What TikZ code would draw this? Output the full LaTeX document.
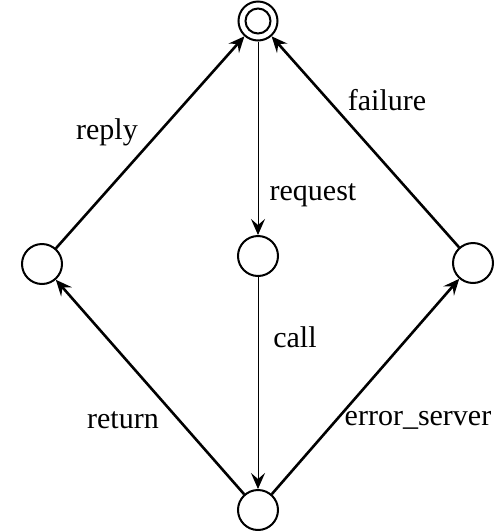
\documentclass[tikz,border=0pt]{standalone}
\usepackage{fontspec}
\setmainfont{Liberation Serif}
\usetikzlibrary{arrows.meta}
\tikzset{
  px/.style={x=0.5pt,y=-0.5pt},
  st/.style={draw,circle,line width=1pt,minimum size=20pt,inner sep=0pt,fill=white},
  thick edge/.style={line width=1.3pt,-{Stealth[length=8pt,width=7pt,inset=3pt]}},
  thin edge/.style={line width=0.5pt,-{Stealth[length=8pt,width=7pt,inset=3pt]}},
  lbl/.style={font=\fontsize{15}{18}\selectfont,inner sep=0pt}
}
\begin{document}
\begin{tikzpicture}[px]
\useasboundingbox[fill=white] (0,0) rectangle (501,531);
\node[st,minimum size=19.5pt] (top) at (258,21) {};
\node[draw,circle,line width=1pt,minimum size=12.5pt,inner sep=0pt] (topin) at (258,21) {};
\node[st] (mid) at (258,256) {};
\node[st] (left) at (42,264) {};
\node[st] (right) at (473,263) {};
\node[st] (bot) at (258,510) {};
\draw[thick edge] (left) -- (top);
\draw[thick edge] (right) -- (top);
\draw[thick edge] (bot) -- (left);
\draw[thick edge] (bot) -- (right);
\draw[thin edge] (top) -- (mid);
\draw[thin edge] (mid) -- (bot);
\node[lbl] (lreply) at (107,132) {reply};
\node[lbl] (lfailure) at (387,100) {failure};
\node[lbl] (lrequest) at (313,195) {request};
\node[lbl] (lcall) at (295,337) {call};
\node[lbl] (lreturn) at (123,420) {return};
\node[lbl] (lerror) at (418,420) {error\_server};
\end{tikzpicture}
\end{document}
